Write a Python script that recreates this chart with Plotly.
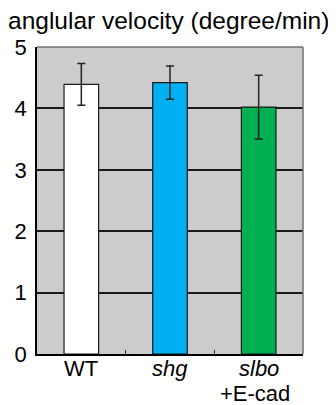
import plotly.graph_objects as go

categories = ["WT", "shg", "slbo"]
tick_labels = ["WT", "<i>shg</i>", "<i>slbo</i>"]
sub_labels = ["", "", "+E-cad"]
values = [4.39, 4.42, 4.02]
errors = [0.34, 0.27, 0.52]
colors = ["#ffffff", "#00b0f0", "#00b050"]
y_ticks = [0, 1, 2, 3, 4, 5]

# the page body has an 8px margin, so the figure is drawn 8px smaller
fig = go.Figure()
fig.add_trace(go.Bar(
    x=categories, y=values,
    marker=dict(color=colors, line=dict(color="#1a1a1a", width=1.2)),
    width=0.39,
    error_y=dict(type="data", array=errors, visible=True,
                 color="#222222", thickness=1.5, width=4),
))

fig.update_layout(
    width=328, height=397,
    margin=dict(l=29, r=33, t=39, b=51),
    paper_bgcolor="white",
    plot_bgcolor="#cccccc",
    showlegend=False,
    font=dict(family="Liberation Sans, Arial, sans-serif", size=22, color="black"),
    bargap=0.6,
)
fig.add_annotation(text="anglular velocity (degree/min)", xref="paper", yref="paper",
                   x=(-2 - 29) / 266, xanchor="left", y=1 + 26 / 307, yanchor="middle",
                   showarrow=False, font=dict(size=24.5))
for cat, lab, sub in zip(categories, tick_labels, sub_labels):
    fig.add_annotation(text=lab, x=cat, xref="x", yref="paper", y=-14.5 / 307,
                       yanchor="middle", showarrow=False, font=dict(size=22))
    if sub:
        fig.add_annotation(text=sub, x=cat, xref="x", xshift=-4, yref="paper",
                           y=-39 / 307, yanchor="middle", showarrow=False,
                           font=dict(size=22))
fig.update_xaxes(
    automargin=False, showticklabels=False,
    showline=True, linecolor="black", linewidth=1.5,
    ticks="inside", tickson="boundaries", ticklen=4, tickcolor="#333333", tickwidth=1,
    showgrid=False,
)
fig.update_yaxes(
    automargin=False,
    range=[0, 5], tickvals=y_ticks, showline=True, linecolor="black", linewidth=1.5,
    showgrid=True, gridcolor="#1a1a1a", gridwidth=1.5, zeroline=False,
    ticks="", tickfont=dict(size=22), ticklabelstandoff=4,
)
# frame top/right
fig.add_shape(type="line", xref="paper", yref="paper", x0=0, x1=1, y0=1, y1=1,
              line=dict(color="#707070", width=1.5))
fig.add_shape(type="line", xref="paper", yref="paper", x0=1, x1=1, y0=0, y1=1,
              line=dict(color="#707070", width=1.5))

fig.write_html("out.html")
